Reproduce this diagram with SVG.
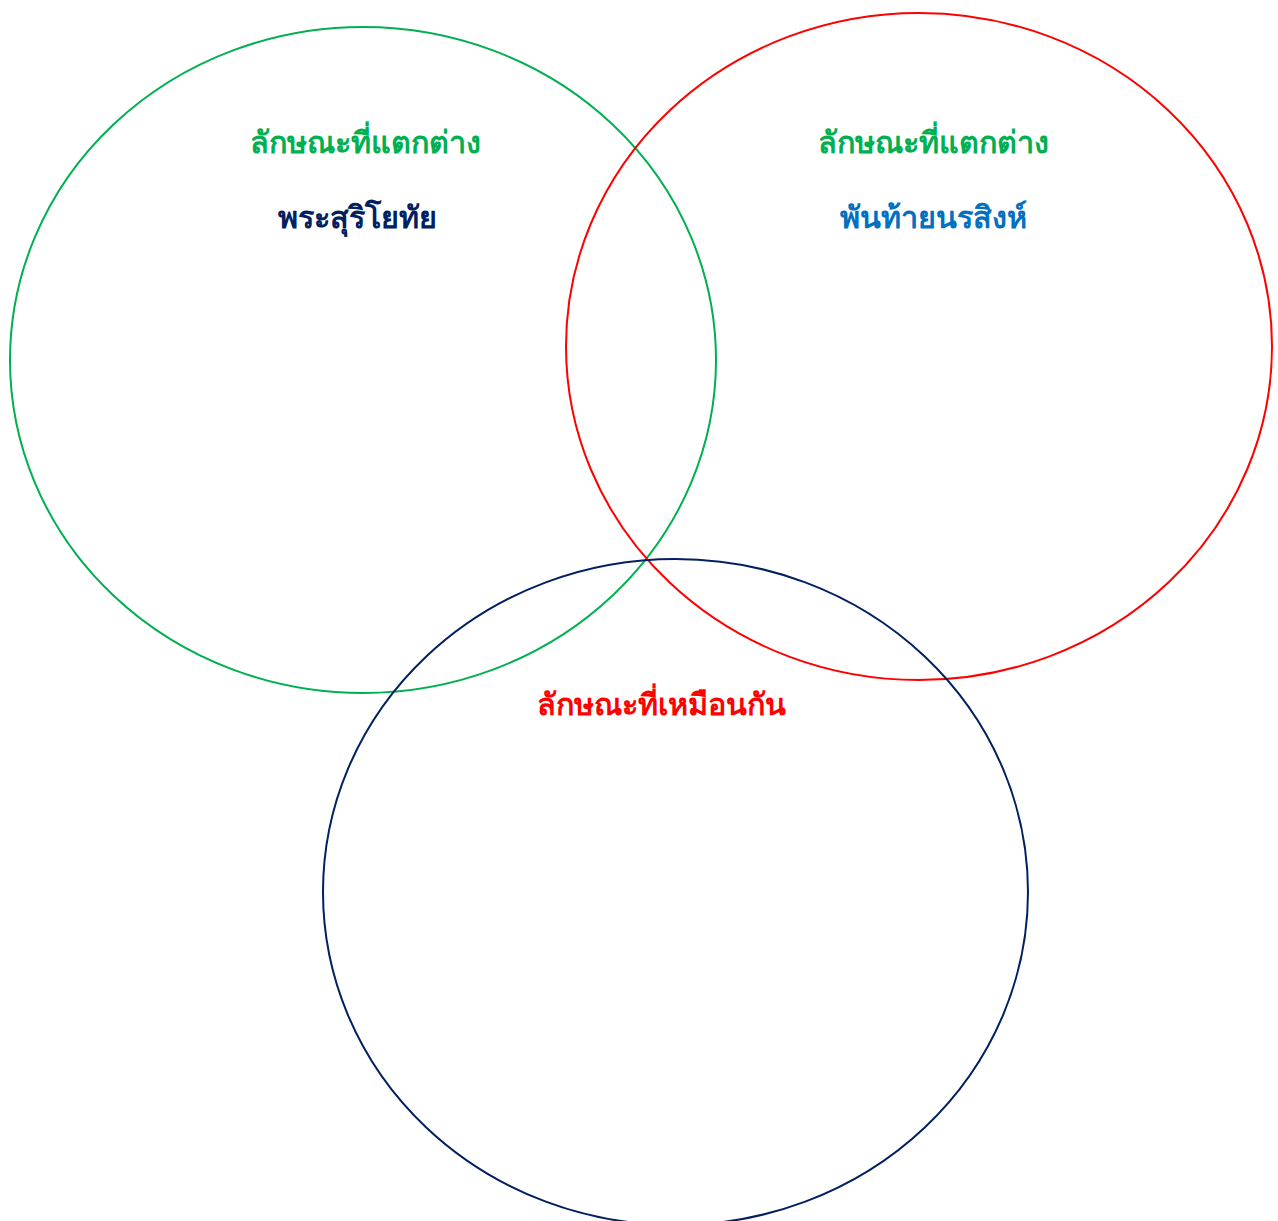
<svg xmlns="http://www.w3.org/2000/svg" width="1278" height="1221" viewBox="0 0 1278 1221">
<style>
.e{fill:none;stroke-width:2}
.t{font-family:"Liberation Serif","Noto Sans",serif;font-weight:bold;font-size:30.5px;text-anchor:middle}
</style>
<rect width="1278" height="1221" fill="#fff"/>
<g id="left">
<ellipse class="e" cx="363" cy="360" rx="353" ry="333" stroke="#00B050"/>
<text class="t" x="365" y="153" fill="#00B050">ลักษณะที่แตกต่าง</text>
<text class="t" x="357" y="228" fill="#002060">พระสุริโยทัย</text>
</g>
<g id="right">
<ellipse class="e" cx="919" cy="346.5" rx="353" ry="333.5" stroke="#FF0000"/>
<text class="t" x="933" y="153" fill="#00B050">ลักษณะที่แตกต่าง</text>
<text class="t" x="933" y="228" fill="#0070C0">พันท้ายนรสิงห์</text>
</g>
<g id="bottom">
<ellipse class="e" cx="675.5" cy="892" rx="352.5" ry="333" stroke="#002060"/>
<text class="t" x="661" y="715" fill="#FF0000">ลักษณะที่เหมือนกัน</text>
</g>
<g id="connectors"></g>
</svg>
